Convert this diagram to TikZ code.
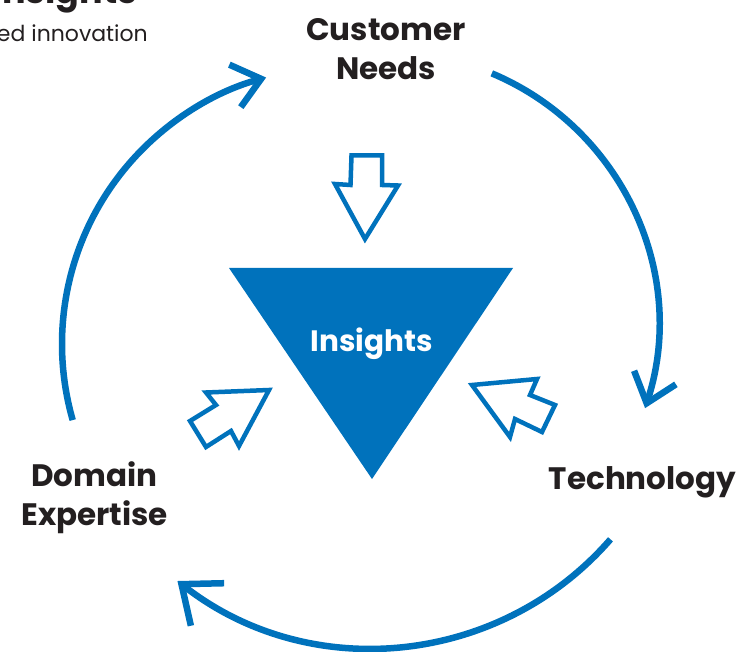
\documentclass[tikz,border=0pt]{standalone}
\usepackage{fontspec}
\setmainfont{Poppins}
\usetikzlibrary{arrows.meta}
\definecolor{ibmblue}{RGB}{0,114,188}
\definecolor{ink}{RGB}{35,31,32}
\begin{document}
\begin{tikzpicture}[x=1pt,y=-1pt,
  lbl/.style={font=\bfseries\fontsize{31}{39}\selectfont, text=ink, inner sep=0pt, anchor=base},
  cyc/.style={draw=ibmblue, line width=6.5pt, line cap=butt},
  barb/.style={-{Straight Barb[length=27pt,width=44pt]}},
  bigbarb/.style={-{Straight Barb[length=33pt,width=54pt]}},
  hollow/.style={draw=ibmblue, line width=4.5pt, fill=white, line join=miter}]
\useasboundingbox (0,0) rectangle (742,652);

% title fragments cut by the page edge
\node[font=\bfseries\fontsize{35}{40}\selectfont, text=ink, inner sep=0pt, anchor=base east] (title) at (137,4) {Insights};
\node[font=\fontsize{22}{26}\selectfont, text=ink, inner sep=0pt, anchor=base east] (subtitle) at (148,41.7) {ed innovation};

% central triangle
\coordinate (tl) at (229,268);
\coordinate (tr) at (513,268);
\coordinate (tb) at (372,479);
\fill[ibmblue] (tl) -- (tr) -- (tb) -- cycle;
\node[lbl, font=\bfseries\fontsize{29.5}{36}\selectfont, text=white] (ins) at (372,351.7) {Insights};

% labels
\node[lbl] (cust) at (386,40.7) {Customer};
\node[lbl] (needs) at (386,79.3) {Needs};
\node[lbl] (dom) at (94.5,486.7) {Domain};
\node[lbl] (exp) at (94.5,525) {Expertise};
\node[lbl] (tech) at (642.5,489.3) {Technology};

% cycle arcs
\coordinate (cr) at (386,325);
\coordinate (cb) at (372,332);
\coordinate (cl) at (338,344);
\draw[cyc,barb] (cr) ++(-67.2:273) arc[start angle=-67.2, end angle=18, radius=272];
\draw[cyc,bigbarb] (cb) ++(41:316) arc[start angle=41, end angle=128, radius=316];
\draw[cyc,barb] (cl) ++(164:276) arc[start angle=164, end angle=254.9, radius=276];

% hollow arrows into the triangle
\draw[hollow] (351.5,155.5) -- (382,155.5) -- (382,185) -- (398,185.5) -- (365,239) -- (335,184) -- (350.5,185) -- cycle;
\draw[hollow] (269,390) -- (206,392.5) -- (216,405) -- (190,421) -- (206,447) -- (231,431) -- (239,446) -- cycle;
\draw[hollow] (472,385) -- (537,379) -- (530,395) -- (555,405) -- (542,432) -- (515,419) -- (510,437) -- cycle;
\end{tikzpicture}
\end{document}
